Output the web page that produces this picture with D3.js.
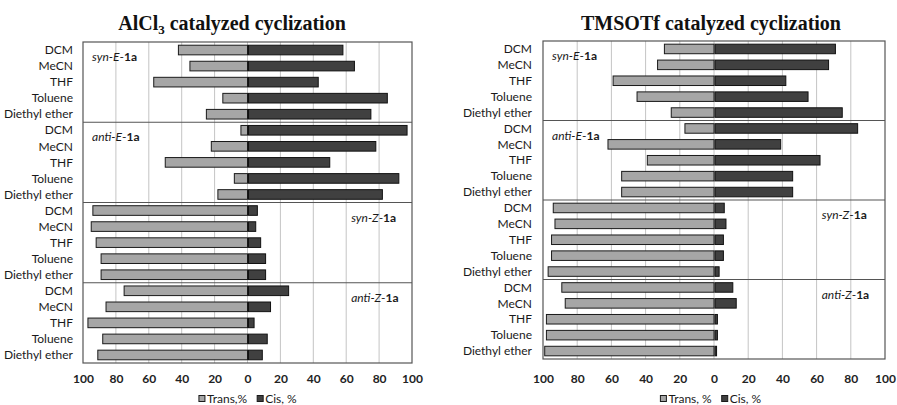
<!DOCTYPE html>
<html><head><meta charset="utf-8">
<script src="https://cdn.jsdelivr.net/npm/d3@7"></script>
<style>
html,body{margin:0;padding:0;background:#fff;}
svg{display:block;}
</style></head>
<body>
<svg id="c" width="897" height="405"></svg>
<script>
const solvents = ["DCM", "MeCN", "THF", "Toluene", "Diethyl ether"];
const isomers = [
  {pre: "syn-", iso: "E"},
  {pre: "anti-", iso: "E"},
  {pre: "syn-", iso: "Z"},
  {pre: "anti-", iso: "Z"}
];
const tickValues = [-100, -80, -60, -40, -20, 0, 20, 40, 60, 80, 100];
const titles = ["AlCl", "TMSOTf catalyzed cyclization"];
const legendAl = ["Trans,%", "Cis, %"];
const legendTm = ["Trans, %", "Cis, %"];

// AlCl3: syn-E, anti-E, syn-Z, anti-Z (each DCM, MeCN, THF, Toluene, Diethyl ether)
const alTrans = [42, 35, 57, 15, 25,   4, 22, 50, 8, 18,   94, 95, 92, 89, 89,   75, 86, 97, 88, 91];
const alCis   = [58, 65, 43, 85, 75,  97, 78, 50, 92, 82,   6, 5, 8, 11, 11,     25, 14, 4, 12, 9];
// TMSOTf
const tmTrans = [29, 33, 59, 45, 25,  17, 62, 39, 54, 54,   94, 93, 95, 95, 97,   89, 87, 98, 98, 99];
const tmCis   = [71, 67, 42, 55, 75,  84, 39, 62, 46, 46,    6, 7, 5.5, 5.5, 3,   11, 13, 2, 2, 1.5];

const svg = d3.select("#c");
const labelFont = "Lato, 'Open Sans', sans-serif";

function rowsFrom(trans, cis) {
  const rows = [];
  isomers.forEach((iso, i) => {
    solvents.forEach((s, j) => {
      const k = i * 5 + j;
      rows.push({key: i + "|" + s, solvent: s, trans: trans[k], cis: cis[k]});
    });
  });
  return rows;
}

function drawPanel(cfg) {
  const rows = rowsFrom(cfg.trans, cfg.cis);
  const x = d3.scaleLinear().domain([-100, 100]).range([cfg.x0, cfg.x1]);
  const y = d3.scaleBand().domain(rows.map(r => r.key)).range([cfg.y0, cfg.y1]).paddingInner(0.4).paddingOuter(0.2);
  const g = svg.append("g");

  // gridlines
  g.append("g").selectAll("line").data(tickValues.filter(v => v > -100 && v < 100)).join("line")
    .attr("x1", d => x(d)).attr("x2", d => x(d))
    .attr("y1", cfg.y0).attr("y2", cfg.y1)
    .attr("stroke", "#c4c4c4").attr("stroke-width", 1);

  // bars
  g.append("g").selectAll("rect").data(rows).join("rect")
    .attr("x", d => x(-d.trans)).attr("width", d => x(0) - x(-d.trans))
    .attr("y", d => y(d.key)).attr("height", y.bandwidth())
    .attr("fill", "#a6a6a6").attr("stroke", "#1a1a1a").attr("stroke-width", 1);
  g.append("g").selectAll("rect").data(rows).join("rect")
    .attr("x", d => x(0) + 1).attr("width", d => Math.max(1, x(d.cis) - x(0) - 1))
    .attr("y", d => y(d.key)).attr("height", y.bandwidth())
    .attr("fill", "#404040").attr("stroke", "#111").attr("stroke-width", 1);

  // section dividers
  const step = (cfg.y1 - cfg.y0) / rows.length;
  [5, 10, 15].forEach(n => {
    g.append("line").attr("x1", cfg.x0).attr("x2", cfg.x1)
      .attr("y1", cfg.y0 + n * step).attr("y2", cfg.y0 + n * step)
      .attr("stroke", "#555").attr("stroke-width", 1.2);
  });

  // frame
  g.append("rect").attr("x", cfg.x0).attr("y", cfg.y0)
    .attr("width", cfg.x1 - cfg.x0).attr("height", cfg.y1 - cfg.y0)
    .attr("fill", "none").attr("stroke", "#555").attr("stroke-width", 1.2);

  // category labels (y axis)
  const yAxis = d3.axisLeft(y).tickSize(0).tickPadding(0).tickFormat(k => k.split("|")[1]);
  const ya = g.append("g").attr("transform", `translate(${cfg.labelX},0)`).call(yAxis);
  ya.select(".domain").remove();
  ya.selectAll("text").attr("font-family", labelFont).attr("font-size", "12px").attr("fill", "#1a1a1a").attr("dy", "0.35em");

  // x axis tick labels
  const xAxis = d3.axisBottom(x).tickValues(tickValues).tickSize(0).tickPadding(0).tickFormat(v => Math.abs(v));
  const xa = g.append("g").attr("transform", `translate(0,${cfg.tickY})`).call(xAxis);
  xa.select(".domain").remove();
  xa.selectAll("text").attr("font-family", labelFont).attr("font-size", "12px").attr("font-weight", "bold").attr("fill", "#222").attr("dy", 0);

  // section annotations
  isomers.forEach((iso, i) => {
    const ax = i < 2 ? cfg.x0 + 9 : x(63);
    const t = g.append("text").attr("x", ax).attr("y", cfg.y0 + i * 5 * step + 19)
      .attr("font-family", labelFont).attr("font-size", "12px").attr("fill", "#1a1a1a");
    t.append("tspan").attr("font-style", "italic").text(iso.pre + iso.iso);
    t.append("tspan").text("-");
    t.append("tspan").attr("font-weight", "bold").text("1a");
  });

  // title
  const tt = svg.append("text").attr("x", cfg.titleX).attr("y", 30).attr("text-anchor", "middle")
    .attr("font-family", "'Liberation Serif', 'Times New Roman', serif").attr("font-weight", "bold").attr("font-size", "20px").attr("fill", "#111");
  cfg.title(tt);

  // legend
  const lg = svg.append("g").attr("transform", `translate(${cfg.legendX},399)`);
  let cx = 0;
  cfg.legend.forEach((lbl, i) => {
    lg.append("rect").attr("x", cx).attr("y", -3.5).attr("width", 6).attr("height", 6)
      .attr("fill", i === 0 ? "#a6a6a6" : "#404040").attr("stroke", "#1a1a1a").attr("stroke-width", 1);
    const tx = lg.append("text").attr("x", cx + 8).attr("y", 4)
      .attr("font-family", labelFont).attr("font-size", "12px").attr("fill", "#1a1a1a").text(lbl);
    cx += 8 + tx.node().getComputedTextLength() + 10;
  });
  const bb = lg.node().getBBox();
  lg.attr("transform", `translate(${cfg.legendCenter - bb.width / 2},399)`);
}

drawPanel({
  trans: alTrans, cis: alCis,
  x0: 83, x1: 412, y0: 42, y1: 363, labelX: 73, tickY: 383,
  titleX: 232, legendX: 0, legendCenter: 248, legend: legendAl,
  title: t => {
    t.append("tspan").text(titles[0]);
    t.append("tspan").attr("font-size", "13px").attr("dy", 4).text("3");
    t.append("tspan").attr("dy", -4).text(" catalyzed cyclization");
  }
});
drawPanel({
  trans: tmTrans, cis: tmCis,
  x0: 543, x1: 885, y0: 41, y1: 359, labelX: 532, tickY: 383,
  titleX: 711, legendX: 0, legendCenter: 711, legend: legendTm,
  title: t => { t.text(titles[1]); }
});
</script>
</body></html>
